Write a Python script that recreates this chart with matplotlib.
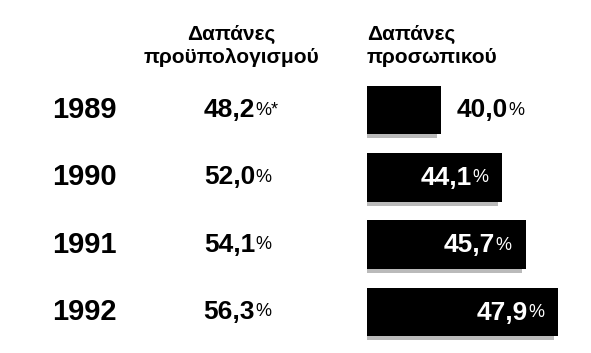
import matplotlib.pyplot as plt
import matplotlib.patheffects as pe
from matplotlib import font_manager

years = ["1989", "1990", "1991", "1992"]
budget_share = ["48,2", "52,0", "54,1", "56,3"]
budget_note = ["*", "", "", ""]
staff_share = [40.0, 44.1, 45.7, 47.9]
header_budget = "Δαπάνες\nπροϋπολογισμού"
header_staff = "Δαπάνες\nπροσωπικού"

names = {f.name for f in font_manager.fontManager.ttflist}
family = [f for f in ["Liberation Sans Narrow", "Liberation Sans", "DejaVu Sans"] if f in names]
plt.rcParams["font.family"] = family

W, H = 591, 353
fig = plt.figure(figsize=(W / 100, H / 100), dpi=100)

# row index -> pixel: centre of row 0 at 110 px, rows 67.3 px apart
row0, step = 110, 67.3
ylim = ((H - row0) / step, -row0 / step)

ax = fig.add_axes([0, 0, 1, 1])
ax.set_xlim(0, W)
ax.set_ylim(*ylim)
ax.axis("off")

bar_left = 367
ax_bar = fig.add_axes([bar_left / W, 0, (W - bar_left) / W, 1])
ax_bar.set_xlim(35, 50.1)
ax_bar.set_ylim(*ylim)
ax_bar.axis("off")

num_fs, pct_fs = 19, 13


def pct_after(axis, num_artist, label, color="black"):
    # % sign in lighter, smaller type right after the number
    return axis.annotate(label, (1, 0), xycoords=num_artist, xytext=(0.5, 2.5),
                         textcoords="offset points", fontsize=pct_fs, ha="left",
                         va="bottom", color=color)


rows = range(len(years))
for i in rows:
    ax.text(52, i, years[i], fontsize=21, fontweight="bold", ha="left", va="center")
    t = ax.text(255, i, budget_share[i], fontsize=num_fs, fontweight="bold",
                ha="right", va="center")
    pct_after(ax, t, "%" + budget_note[i])

bars = ax_bar.barh(list(rows), [v - 35 for v in staff_share], left=35, height=0.72,
                   color="black")
for b in bars:
    b.set_path_effects([pe.SimplePatchShadow(offset=(-3, -3), shadow_rgbFace="0.7",
                                             alpha=0.9), pe.Normal()])

for i, v in enumerate(staff_share):
    txt = f"{v:.1f}".replace(".", ",")
    if i == 0:
        t = ax_bar.annotate(txt, (v, i), xytext=(11, 0), textcoords="offset points",
                            fontsize=num_fs, fontweight="bold", ha="left", va="center")
        pct_after(ax_bar, t, "%")
    else:
        p = ax_bar.annotate("%", (v, i), xytext=(-10, -0.5), textcoords="offset points",
                            fontsize=pct_fs, ha="right", va="center", color="white")
        ax_bar.annotate(txt, (0, 0), xycoords=p, xytext=(-0.5, -2.5),
                        textcoords="offset points", fontsize=num_fs, fontweight="bold",
                        ha="right", va="bottom", color="white")

fig.text(231 / W, 1 - 46 / H, header_budget, fontsize=15, fontweight="bold",
         ha="center", va="center", linespacing=1.3)
fig.text(bar_left / W, 1 - 46 / H, header_staff, fontsize=15, fontweight="bold",
         ha="left", va="center", linespacing=1.3)

fig.savefig("out.png", dpi=100)
